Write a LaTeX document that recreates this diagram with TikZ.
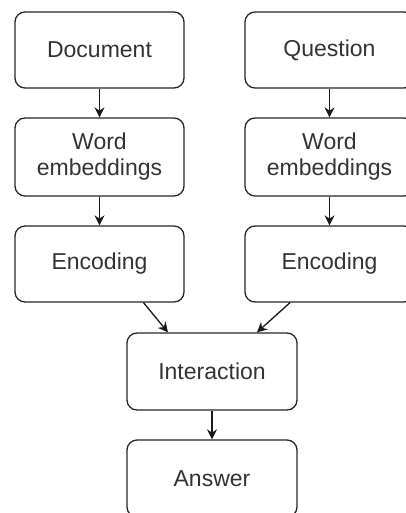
\documentclass[tikz,border=0pt]{standalone}
\usepackage{fontspec}
\setmainfont{Liberation Sans}
\usetikzlibrary{arrows.meta}

\begin{document}
\begin{tikzpicture}[x=1pt,y=-1pt,
    box/.style={draw=black!85,line width=1.3pt,rounded corners=10pt,
      minimum width=169pt,minimum height=76pt,align=center,
      text=black!80,font=\fontsize{23}{26}\selectfont},
    every edge/.append style={line width=1.3pt,draw=black!90},
    >={Stealth[length=10pt,width=10pt]}]
  \useasboundingbox (0,0) rectangle (406,513);
  \node[box] (doc) at (99.5,50) {Document};
  \node[box] (que) at (329.5,50) {Question};
  \node[box,minimum height=78pt] (wel) at (99.5,157) {Word\\embeddings};
  \node[box,minimum height=78pt] (wer) at (329.5,157) {Word\\embeddings};
  \node[box] (encl) at (99.5,264) {Encoding};
  \node[box] (encr) at (329.5,264) {Encoding};
  \node[box,minimum width=170pt,minimum height=77pt] (inter) at (212,371.5) {Interaction};
  \node[box,minimum width=170pt,minimum height=77pt] (ans) at (212,478.5) {Answer};
  \path[->] (doc) edge (wel) (wel) edge (encl);
  \path[->] (que) edge (wer) (wer) edge (encr);
  \path[->] ([xshift=44pt]encl.south) edge ([xshift=-44pt]inter.north);
  \path[->] ([xshift=-39.5pt]encr.south) edge ([xshift=45pt]inter.north);
  \path[->] (inter) edge (ans);
\end{tikzpicture}
\end{document}
